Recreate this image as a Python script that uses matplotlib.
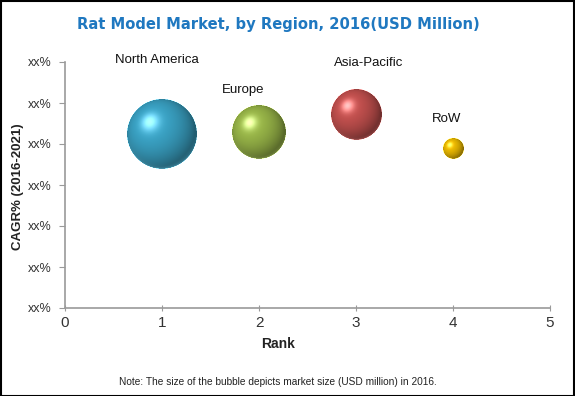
import numpy as np
import matplotlib
matplotlib.use("Agg")
import matplotlib.pyplot as plt
from matplotlib.offsetbox import OffsetImage, AnnotationBbox
from matplotlib.patches import Rectangle

# ---- data ----
regions = ["North America", "Europe", "Asia-Pacific", "RoW"]
rank = [1, 2, 3, 4]
cagr = [4.25, 4.29, 4.73, 3.90]            # position on the xx% scale
market_size = [490, 292, 260, 44]           # relative market size (bubble area)
colors = ["#3aa2c4", "#98b548", "#c2504e", "#eab800"]
label_xy = [(0.95, 6.05), (1.84, 5.32), (3.13, 5.98), (3.93, 4.61)]
yticks = [0, 1, 2, 3, 4, 5, 6]
ytick_labels = ["xx%"] * 7
xticks = [0, 1, 2, 3, 4, 5]

plt.rcParams['font.family'] = ['Liberation Sans', 'DejaVu Sans']

W, H, DPI = 575, 396, 100
fig = plt.figure(figsize=(W / DPI, H / DPI), dpi=DPI)
ax = fig.add_axes([65 / W, 1 - 308 / H, 485 / W, 246 / H])
ax.set_xlim(0, 5)
ax.set_ylim(0, 6)
ax.set_xticks(xticks)
ax.set_xticklabels([str(t) for t in xticks])
ax.set_yticks(yticks)
ax.set_yticklabels(ytick_labels)
for s in ["top", "right"]:
    ax.spines[s].set_visible(False)
for s in ["left", "bottom"]:
    ax.spines[s].set_color("#9a9a9a")
    ax.spines[s].set_linewidth(1.2)
ax.tick_params(axis="y", direction="out", length=4, color="#9a9a9a",
               labelsize=9, labelcolor="#333333", pad=6)
ax.tick_params(axis="x", direction="inout", length=5, color="#9a9a9a",
               labelsize=11, labelcolor="#333333", pad=3)


def sphere_image(diam_px, base_hex):
    n = int(round(diam_px)) + 2
    ss = 3
    N = n * ss
    c = (np.arange(N) + 0.5) / N * 2 - 1
    c = c * (n / diam_px)
    u, v = np.meshgrid(c, -c)
    r2 = u ** 2 + v ** 2
    inside = r2 <= 1.0
    nz = np.sqrt(np.clip(1 - r2, 0, 1))
    L = np.array([-0.35, 0.35, 0.87]); L /= np.linalg.norm(L)
    d = np.clip(u * L[0] + v * L[1] + nz * L[2], 0, 1)
    spec = d ** 30
    base = np.array(matplotlib.colors.to_rgb(base_hex))
    shade = 0.58 + 0.47 * d
    img = base[None, None, :] * shade[..., None]
    img += 0.5 * spec[..., None] * (1 - 0.3 * base[None, None, :])
    # soft reflected light at bottom edge
    rim = np.clip(-v, 0, 1) * (1 - nz) ** 4
    img += 0.45 * rim[..., None] * (0.5 + 0.5 * base[None, None, :])
    img = np.clip(img, 0, 1)
    rgba = np.zeros((N, N, 4))
    rgba[..., :3] = img
    rgba[..., 3] = inside.astype(float)
    rgba = rgba.reshape(n, ss, n, ss, 4).mean(axis=(1, 3))
    a = rgba[..., 3:4]
    rgba[..., :3] = np.where(a > 0, rgba[..., :3] / np.maximum(a, 1e-6), 1)
    return rgba


max_diam_px = 70.0
for x, y, m, col in zip(rank, cagr, market_size, colors):
    dpx = max_diam_px * np.sqrt(m / max(market_size))
    im = sphere_image(dpx, col)
    oi = OffsetImage(im, zoom=72 / DPI, interpolation="bilinear")
    ab = AnnotationBbox(oi, (x, y), xycoords="data", frameon=False,
                        box_alignment=(0.5, 0.5), pad=0)
    ax.add_artist(ab)

for name, (lx, ly) in zip(regions, label_xy):
    ax.text(lx, ly, name, ha="center", va="center", fontsize=9.5,
            color="#111111", clip_on=False)

cx = 278 / W
fig.text(cx, 1 - 25 / H, "Rat Model Market, by Region, 2016(USD Million)",
         ha="center", va="center", fontsize=10.6, fontweight="bold",
         color="#1f78c0", family=["DejaVu Sans"])
fig.text(18 / W, 1 - 187 / H, "CAGR% (2016-2021)", rotation=90,
         ha="center", va="center", fontsize=9.5, fontweight="bold",
         color="#222222")
fig.text(cx, 1 - 344 / H, "Rank", ha="center", va="center", fontsize=10,
         fontweight="bold", color="#222222")
fig.text(cx, 1 - 382 / H,
         "Note: The size of the bubble depicts market size (USD million) in 2016.",
         ha="center", va="center", fontsize=7.3, color="#222222")

fig.patches.append(Rectangle((0.001, 0.001), 0.997, 0.997, transform=fig.transFigure,
                             fill=False, edgecolor="black", linewidth=1.5))

fig.savefig("out.png", dpi=DPI)
